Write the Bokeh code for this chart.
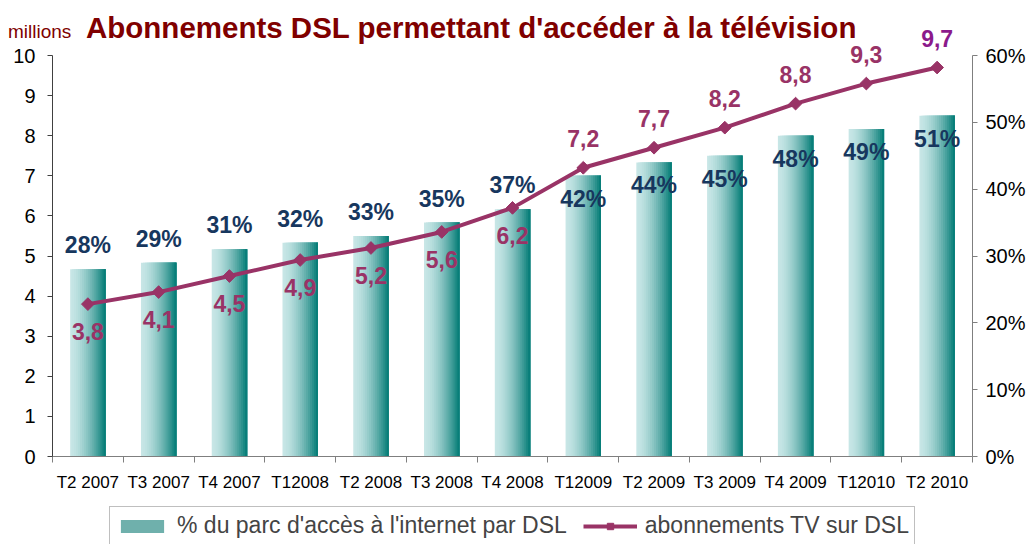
import numpy as np
from bokeh.plotting import figure
from bokeh.layouts import column
from bokeh.models import (Range1d, LinearAxis, FixedTicker, PrintfTickFormatter,
                          Legend, LegendItem, LabelSet, ColumnDataSource, Div)
from bokeh.core.properties import value
from bokeh.embed import file_html
from bokeh.resources import INLINE

# ---------------- data ----------------
categories = ["T2 2007", "T3 2007", "T4 2007", "T12008", "T2 2008", "T3 2008", "T4 2008",
              "T12009", "T2 2009", "T3 2009", "T4 2009", "T12010", "T2 2010"]
pct_dsl = [28, 29, 31, 32, 33, 35, 37, 42, 44, 45, 48, 49, 51]
tv_millions = [3.8, 4.1, 4.5, 4.9, 5.2, 5.6, 6.2, 7.2, 7.7, 8.2, 8.8, 9.3, 9.7]
left_ticks = list(range(0, 11))
right_ticks = list(range(0, 61, 10))
title_text = "Abonnements DSL permettant d'accéder à la télévision"
unit_text = "millions"
legend_bar = "% du parc d'accès à l'internet par DSL"
legend_line = "abonnements TV sur DSL"

# ---------------- style ----------------
FONT = "Liberation Sans"
DARK_RED = "#800000"
LINE_C = "#993366"
LAST_C = "#8B1A8B"
BAR_LBL_C = "#17375E"
AXIS_C = "#7F7F7F"
LIGHT = np.array([200, 231, 231])
DARK = np.array([0, 122, 116])
TOTAL_W, TOTAL_H = 1032, 543
HEADER_H = 26
PLOT_PX = 401                # pixels between 0 and 10 on the left axis
FRAME_TOP_GAP = 29           # pixels above the "10" tick kept inside the frame
FRAME_H = PLOT_PX + FRAME_TOP_GAP
BOTTOM_PANEL = 36
MAIN_H = FRAME_H + BOTTOM_PANEL

n = len(categories)
idx = np.arange(n)
split = 7  # first labels sit outside (bars above / line below)
y_top = left_ticks[-1] * FRAME_H / PLOT_PX
pct_top = right_ticks[-1] * FRAME_H / PLOT_PX

header = Div(text=(
    f'<div style="position:relative;width:{TOTAL_W}px;height:{HEADER_H}px;'
    f'font-family:\'Liberation Sans\',Arial,sans-serif;color:{DARK_RED};">'
    f'<span style="position:absolute;left:8px;top:21px;font-size:19px;white-space:nowrap;'
    f'line-height:normal;">{unit_text}</span>'
    f'<span style="position:absolute;left:86px;top:11px;font-size:29.5px;font-weight:bold;'
    f'white-space:nowrap;line-height:normal;">{title_text}</span></div>'),
    width=TOTAL_W, height=HEADER_H, margin=0,
    styles={"overflow": "visible", "z-index": "2"})

p = figure(frame_width=920, frame_height=FRAME_H,
           x_range=Range1d(-0.5, n - 0.5), y_range=Range1d(0, y_top),
           output_backend="svg", toolbar_location=None,
           min_border_left=52, min_border_right=60, min_border_top=0,
           min_border_bottom=BOTTOM_PANEL, margin=0)
p.extra_y_ranges = {"pct": Range1d(0, pct_top)}
p.xgrid.visible = False
p.ygrid.visible = False
p.outline_line_color = None
p.background_fill_color = None
p.border_fill_color = None

# bars with horizontal gradient (stacked slices)
W = 0.5
N = 18
for k in range(N):
    t = (k + 0.5) / N
    f = t ** 1.6
    rgb = (LIGHT + (DARK - LIGHT) * f).astype(int)
    col = "#%02x%02x%02x" % tuple(rgb)
    p.quad(left=idx - W / 2 + k * W / N, right=idx + W / 2, bottom=0, top=pct_dsl,
           y_range_name="pct", fill_color=col, line_color=None)

# line
p.line(idx, tv_millions, line_color=LINE_C, line_width=4)
p.scatter(idx, tv_millions, marker="square", angle=np.pi / 4, size=9,
          fill_color=LINE_C, line_color=LINE_C)

# labels
bar_lbl = [f"{v}%" for v in pct_dsl]
tv_lbl = [f"{v:.1f}".replace(".", ",") for v in tv_millions]
tv_cols = [LINE_C] * (n - 1) + [LAST_C]

def add_labels(xs, ys, texts, colors, baseline, yoff, range_name="default"):
    src = ColumnDataSource(dict(x=list(xs), y=list(ys), t=list(texts), c=list(colors)))
    ls = LabelSet(x="x", y="y", text="t", source=src, y_range_name=range_name,
                  text_font=value(FONT), text_font_style="bold", text_font_size="23px",
                  text_align="center", text_baseline=baseline, y_offset=yoff,
                  text_color="c")
    p.add_layout(ls)

add_labels(idx[:split], pct_dsl[:split], bar_lbl[:split], [BAR_LBL_C] * split,
           "alphabetic", 16, "pct")
add_labels(idx[split:], pct_dsl[split:], bar_lbl[split:], [BAR_LBL_C] * (n - split),
           "top", -10, "pct")
add_labels(idx[:split], tv_millions[:split], tv_lbl[:split], tv_cols[:split], "top", -19)
add_labels(idx[split:], tv_millions[split:], tv_lbl[split:], tv_cols[split:], "alphabetic", 21)

# x axis
xa = p.xaxis[0]
xa.ticker = FixedTicker(ticks=list(idx), minor_ticks=[i - 0.5 for i in range(n + 1)])
xa.major_label_overrides = {int(i): c for i, c in zip(idx, categories)}
xa.major_tick_line_color = None
xa.major_tick_out = 6
xa.major_tick_in = 0
xa.minor_tick_out = 6
xa.minor_tick_in = 0
xa.minor_tick_line_color = AXIS_C
xa.axis_line_color = AXIS_C
xa.major_label_text_font = FONT
xa.major_label_text_font_size = "17px"
xa.major_label_text_color = "black"
xa.major_label_standoff = 10

# left axis
ya = p.yaxis[0]
ya.ticker = FixedTicker(ticks=left_ticks)
ya.bounds = (left_ticks[0], left_ticks[-1])
ya.axis_line_color = "#404040"
ya.major_tick_line_color = "#404040"
ya.major_tick_out = 5
ya.major_tick_in = 0
ya.minor_tick_line_color = None
ya.major_label_text_font = FONT
ya.major_label_text_font_size = "20px"
ya.major_label_text_color = "black"
ya.major_label_standoff = 12

# right axis
ra = LinearAxis(y_range_name="pct", ticker=FixedTicker(ticks=right_ticks),
                formatter=PrintfTickFormatter(format="%d%%"),
                bounds=(right_ticks[0], right_ticks[-1]))
ra.axis_line_color = AXIS_C
ra.major_tick_line_color = AXIS_C
ra.major_tick_out = 5
ra.major_tick_in = 0
ra.minor_tick_line_color = None
ra.major_label_text_font = FONT
ra.major_label_text_font_size = "20px"
ra.major_label_text_color = "black"
ra.major_label_standoff = 8
p.add_layout(ra, "right")

# legend (own strip below the chart so it is never clipped)
LEG_H = TOTAL_H - HEADER_H - MAIN_H
q = figure(width=TOTAL_W, height=LEG_H, x_range=Range1d(0, 1), y_range=Range1d(0, 1),
           output_backend="svg", toolbar_location=None,
           x_axis_location=None, y_axis_location=None, min_border=0, margin=0)
q.xgrid.visible = False
q.ygrid.visible = False
q.outline_line_color = None
q.border_fill_color = None
q.background_fill_color = None
# legend-only renderers: one sample each, placed outside the visible range
off = [5.0]
sw = q.quad(left=off, right=off, bottom=off, top=off, fill_color="#6FB0AC", line_color=None)
ln = q.line(x=off, y=off, line_color=LINE_C, line_width=4)
mk = q.scatter(x=off, y=off, marker="square", angle=np.pi / 4, size=9,
               fill_color=LINE_C, line_color=LINE_C)
legend = Legend(items=[LegendItem(label=legend_bar, renderers=[sw]),
                       LegendItem(label=legend_line, renderers=[ln, mk])],
                orientation="horizontal", location="top_center")
legend.label_text_font = FONT
legend.label_text_font_size = "23px"
legend.glyph_width = 54
legend.glyph_height = 16
legend.label_standoff = 8
legend.spacing = 16
legend.padding = 5
legend.margin = 12
legend.background_fill_color = "white"
legend.border_line_color = AXIS_C
legend.border_line_width = 1.5
q.add_layout(legend)

layout = column(header, p, q, spacing=0)
open("out.html", "w").write(file_html(layout, INLINE))
